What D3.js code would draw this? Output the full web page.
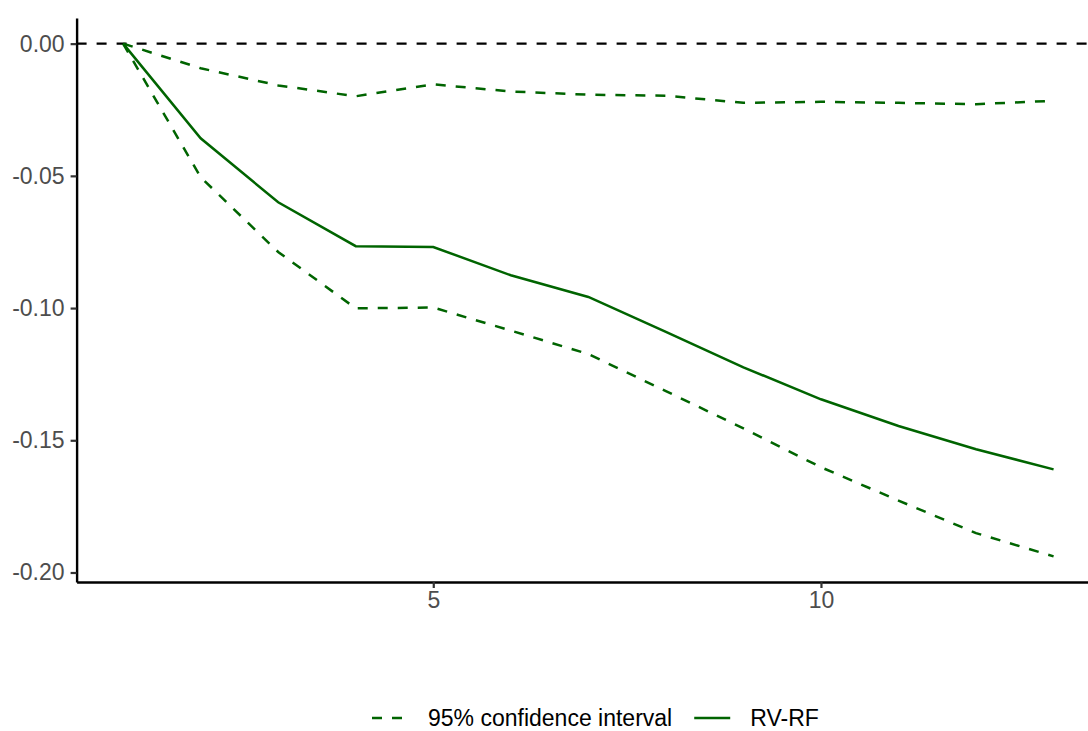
<!DOCTYPE html>
<html lang="en">
<head>
<meta charset="utf-8">
<title>RV-RF impulse response</title>
<script src="https://d3js.org/d3.v7.min.js"></script>
<style>
    body { margin: 0; background: #fff; }
    svg { display: block; font-family: "Liberation Sans", Arial, sans-serif; }
    .tick text { fill: #4d4d4d; font-size: 23px; }
    .legend text { fill: #000; font-size: 23px; }
</style>
</head>
<body>
<div id="chart"></div>
<script>
// horizon (periods) and the three series
const steps = [1, 2, 3, 4, 5, 6, 7, 8, 9, 10, 11, 12, 13];
const rvrf  = [0, -0.0358, -0.0600, -0.0766, -0.0769, -0.0876, -0.0958, -0.1090, -0.1224, -0.1345, -0.1446, -0.1534, -0.1610];
const lower = [0, -0.0505, -0.0788, -0.1001, -0.0998, -0.1085, -0.1174, -0.1314, -0.1455, -0.1602, -0.1728, -0.1851, -0.1939];
const upper = [0, -0.0093, -0.0158, -0.0199, -0.0154, -0.0181, -0.0193, -0.0197, -0.0224, -0.0220, -0.0224, -0.0229, -0.0216];
const xTicks = [5, 10];
const yTicks = [0, -0.05, -0.10, -0.15, -0.20];
const legendLabels = ["95% confidence interval", "RV-RF"];

const W = 1088, H = 731;
const green = "#006400";

const svg = d3.select("#chart").append("svg")
    .attr("width", W)
    .attr("height", H);

// ggplot style 5% expansion on both axes
const xExt = d3.extent(steps), xPad = (xExt[1] - xExt[0]) * 0.05;
const yMin = d3.min(lower), yMax = 0, yPad = (yMax - yMin) * 0.05;

const x = d3.scaleLinear()
    .domain([xExt[0] - xPad, xExt[1] + xPad])
    .range([76.6, 1100.1]);
const y = d3.scaleLinear()
    .domain([yMin - yPad, yMax + yPad])
    .range([582, 18]);

// axes
const xAxis = svg.append("g")
    .attr("transform", "translate(0," + y.range()[0] + ")")
    .call(d3.axisBottom(x).tickValues(xTicks).tickSizeInner(6).tickSizeOuter(0)
        .tickPadding(4).tickFormat(d3.format("d")));
const yAxis = svg.append("g")
    .attr("transform", "translate(" + x.range()[0] + ",0)")
    .call(d3.axisLeft(y).tickValues(yTicks).tickSizeInner(6).tickSizeOuter(0)
        .tickPadding(6).tickFormat(d => d.toFixed(2)));

[xAxis, yAxis].forEach(a => {
    a.select(".domain").attr("stroke", "#000").attr("stroke-width", 2.4);
    a.selectAll(".tick line").attr("stroke", "#333").attr("stroke-width", 2.2);
});

// zero reference line
svg.append("line")
    .attr("x1", x.range()[0]).attr("x2", x.range()[1])
    .attr("y1", y(0)).attr("y2", y(0))
    .attr("stroke", "#000")
    .attr("stroke-width", 2.4)
    .attr("stroke-dasharray", "10,10");

const line = d3.line()
    .x(d => x(d[0]))
    .y(d => y(d[1]));

const series = [
    {values: lower, dash: "10,10"},
    {values: upper, dash: "10,10"},
    {values: rvrf,  dash: null}
];

svg.append("g").selectAll("path")
    .data(series)
    .join("path")
        .attr("d", s => line(steps.map((t, i) => [t, s.values[i]])))
        .attr("fill", "none")
        .attr("stroke", green)
        .attr("stroke-width", 2.5)
        .attr("stroke-dasharray", s => s.dash);

// legend at the bottom
const legend = svg.append("g")
    .attr("class", "legend")
    .attr("transform", "translate(372,718)");

const keyDash = ["10,10", null];
let offset = 0;
legendLabels.forEach((label, i) => {
    const item = legend.append("g").attr("transform", "translate(" + offset + ",0)");
    item.append("line")
        .attr("x1", 0).attr("x2", 36)
        .attr("y1", 0).attr("y2", 0)
        .attr("stroke", green)
        .attr("stroke-width", 2.5)
        .attr("stroke-dasharray", keyDash[i]);
    const txt = item.append("text")
        .attr("x", 56)
        .attr("y", 8)
        .text(label);
    offset += 56 + txt.node().getComputedTextLength() + 22;
});
</script>
</body>
</html>
